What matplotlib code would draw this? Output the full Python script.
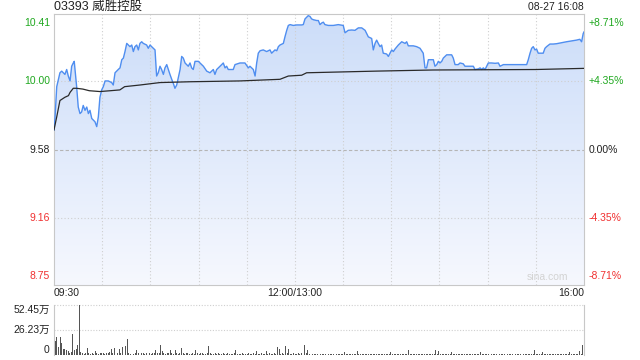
import numpy as np
import matplotlib
matplotlib.use("Agg")
import matplotlib.pyplot as plt
from matplotlib.colors import LinearSegmentedColormap

plt.rcParams["font.family"] = ["Liberation Sans", "Noto Sans CJK SC", "DejaVu Sans"]

TITLE = "03393 威胜控股"
STAMP = "08-27 16:08"
PREV_CLOSE = 9.58
PRICE_TICKS = [10.41, 10.00, 9.58, 9.16, 8.75]
PCT_LABELS = ["+8.71%", "+4.35%", "0.00%", "-4.35%", "-8.71%"]
TIME_LABELS = ["09:30", "12:00/13:00", "16:00"]
VOL_TICKS = [52.45, 26.23, 0]
VOL_LABELS = ["52.45万", "26.23万", "0"]

# minutes since 09:30 (lunch break removed), price
price_min = [0, 0.6, 1.7, 3.7, 4.8, 6.8, 7.9, 8.9, 10, 11, 12, 12.6, 14.1, 15.1, 16.2, 17.2,
             18.2, 19.3, 20.4, 21.4, 22.4, 23.5, 24.5, 25.5, 26.6, 27.6, 28.6, 29.7, 30.7,
             31.8, 33.8, 35.9, 36.9, 38, 40, 41.1, 42.2, 43.2, 44.2, 45.3, 46.3, 47.3, 48.4,
             49.4, 50.4, 51.5, 52.5, 53.5, 54.6, 55.6, 57.7, 58.7, 59.8, 60.8, 62.9, 63.9,
             64.9, 66, 67, 68.1, 69.1, 70.2, 71.2, 72.2, 73.3, 74.3, 75.3, 76.4, 77.4, 78.5,
             79.5, 80.5, 81.6, 83.6, 84.7, 85.7, 86.7, 87.8, 89.9, 90.9, 93, 95.1, 97.1, 99.2,
             100.2, 101.3, 103.4, 104.4, 105.4, 106.5, 107.5, 108.5, 109.6, 111.6, 112.7,
             115.8, 118.9, 121, 122, 124.1, 125.2, 126.2, 127.2, 128.3, 130.3, 132.4, 134.5,
             135.5, 137.6, 138.7, 139.7, 140.7, 142.8, 143.8, 144.9, 145.9, 147, 149, 151.1,
             154.2, 155.2, 156.3, 157.3, 158.3, 159.4, 160.4, 161.5, 163.6, 164.6, 165.6,
             166.7, 167.7, 168.7, 170.8, 173.9, 177, 180.1, 181.2, 183.2, 185.4, 187.4, 189.5,
             191.6, 193.7, 195.7, 197.8, 198.8, 199.9, 200.9, 201.9, 203, 204, 205, 207.1,
             208.2, 209.2, 210.3, 211.3, 212.3, 214.4, 216.5, 218.6, 219.6, 220.6, 223.7,
             225.8, 227.9, 229.9, 231, 232, 233.1, 236.2, 237.2, 238.3, 239.3, 240.3, 241.4,
             242.4, 243.5, 244.5, 247.6, 248.6, 249.7, 251.7, 252.8, 254.8, 255.9, 261.1,
             262.1, 264.2, 265.3, 266.3, 267.3, 268.4, 269.4, 270.4, 272.5, 274.6, 276.7,
             277.7, 279.8, 284, 288.1, 294.3, 295.3, 296.4, 297.4, 298.4, 299.5, 300.5, 301.5,
             303.6, 304.6, 305.7, 306.7, 308.8, 310.8, 312.9, 316, 319.1, 322.2, 325.3, 327.4,
             328.5, 329.5, 330]
price_val = [9.70, 9.77, 9.965, 10.05, 10.06, 10.04, 10.07, 10.03, 10.00, 10.09, 10.11, 10.12,
             9.965, 9.84, 9.80, 9.81, 9.85, 9.82, 9.84, 9.80, 9.82, 9.77, 9.76, 9.75, 9.72,
             9.78, 9.90, 9.945, 9.965, 10.00, 10.00, 9.99, 9.975, 10.05, 10.07, 10.08, 10.13,
             10.14, 10.18, 10.23, 10.22, 10.21, 10.22, 10.18, 10.21, 10.22, 10.19, 10.23,
             10.24, 10.23, 10.22, 10.20, 10.22, 10.21, 10.19, 10.03, 10.05, 10.09, 10.07,
             10.04, 10.08, 10.10, 10.07, 10.04, 10.01, 9.985, 9.955, 9.975, 10.02, 10.07,
             10.15, 10.14, 10.11, 10.09, 10.11, 10.08, 10.07, 10.12, 10.12, 10.11, 10.09,
             10.06, 10.05, 10.07, 10.04, 10.07, 10.09, 10.10, 10.11, 10.08, 10.09, 10.07,
             10.07, 10.07, 10.10, 10.11, 10.11, 10.08, 10.09, 10.07, 10.03, 10.11, 10.17,
             10.185, 10.19, 10.18, 10.19, 10.17, 10.19, 10.185, 10.21, 10.22, 10.23, 10.27,
             10.31, 10.34, 10.345, 10.34, 10.343, 10.343, 10.345, 10.38, 10.39, 10.40, 10.395,
             10.38, 10.375, 10.37, 10.37, 10.345, 10.355, 10.36, 10.345, 10.34, 10.34, 10.345,
             10.34, 10.295, 10.31, 10.312, 10.31, 10.325, 10.325, 10.31, 10.27, 10.26, 10.19,
             10.23, 10.25, 10.23, 10.21, 10.22, 10.17, 10.165, 10.15, 10.17, 10.19, 10.18,
             10.195, 10.22, 10.24, 10.23, 10.24, 10.215, 10.215, 10.21, 10.20, 10.17, 10.08,
             10.08, 10.13, 10.13, 10.09, 10.10, 10.12, 10.11, 10.12, 10.14, 10.15, 10.16,
             10.16, 10.14, 10.10, 10.10, 10.11, 10.105, 10.09, 10.09, 10.07, 10.074, 10.08,
             10.07, 10.08, 10.07, 10.09, 10.11, 10.11, 10.108, 10.11, 10.09, 10.10, 10.10,
             10.10, 10.10, 10.13, 10.17, 10.20, 10.21, 10.19, 10.195, 10.17, 10.17, 10.17,
             10.20, 10.21, 10.226, 10.226, 10.228, 10.234, 10.24, 10.245, 10.25, 10.255,
             10.24, 10.29, 10.30]

# average price line
avg_min = [0, 1.7, 3.7, 6.8, 9, 10, 12, 14, 18, 22, 28.6, 35, 41, 44, 53.5, 66, 84.7,
           115.8, 140.7, 145.9, 154.2, 157.3, 200, 236, 300, 330]
avg_val = [9.70, 9.78, 9.88, 9.90, 9.91, 9.93, 9.955, 9.955, 9.95, 9.94, 9.935, 9.94,
           9.945, 9.965, 9.975, 9.99, 9.995, 10.00, 10.01, 10.03, 10.035, 10.05, 10.06,
           10.067, 10.07, 10.077]

# volume per minute, in 万 shares
volume = [
    14.5, 19, 8, 19, 12.8, 6, 6, 5, 4.5, 2, 3.5, 21.7, 5, 6, 10.4, 52.45, 3.5, 2, 1.5, 2.5,
    7, 2, 1.5, 2, 1.5, 4, 2, 1.5, 2.5, 1.8,
    2, 1.5, 2.5, 2, 3, 6, 2, 7, 3, 2, 6, 2.5, 8.6, 5, 9, 17, 2, 1.5, 2, 1.2,
    2, 5, 2, 1.5, 1.8, 2.5, 1.5, 2, 1.2, 2,
    1.5, 2, 2.5, 5, 2, 1.8, 11, 4, 2, 1.5, 2, 2.5, 5, 2, 1.5, 5, 2, 1.5, 2, 7.6,
    2, 1.5, 1.8, 2, 1.2, 1.5, 2, 1.5, 5, 2,
    1.5, 2, 1.8, 1.2, 1.5, 2, 9.3, 2, 1.5, 1.2, 1.8, 1.5, 2, 1.2, 1.5, 1.8, 1.2, 1.5, 2, 1.2,
    1.5, 1.2, 1.8, 5, 1.5, 1.2, 1.5, 2, 1.2, 1.5,
    1.2, 1.8, 1.5, 1.2, 2, 1.5, 4, 1.5, 1.2, 1.8, 1.5, 1.2, 4, 1.5, 1.8, 1.2, 1.5, 2, 1.5, 8,
    6, 1.5, 2, 1.5, 9.3, 2, 6, 1.5, 1.2, 1.8,
    1.5, 1.2, 1.8, 1.5, 2, 9.3, 10.4, 2, 5, 1.5, 1.2, 1, 0.8, 1.2, 1, 0.8, 1.2, 1, 1.5, 0.8,
    1, 1.2, 0.8, 1, 1.5, 1, 0.8, 1.2, 1, 0.8,
    1.2, 3.5, 1, 0.8, 1.2, 1, 1.5, 0.8, 1.2, 3.8, 1, 0.8, 1.2, 1.5, 1, 0.8, 1.2, 1, 0.8, 1.5,
    1, 1.2, 0.8, 1, 1.5, 1.2, 0.8, 1, 1.2, 0.8,
    3.5, 1, 0.8, 1.2, 1, 1.5, 0.8, 1, 1.2, 0.8, 1.5, 5, 1, 0.8, 1.2, 1, 0.8, 1.5, 1, 1.2,
    0.8, 1, 1.2, 1.5, 0.8, 1, 1.2, 0.8, 5, 1.2,
    3.8, 1, 1.2, 0.8, 1, 1.5, 1.2, 0.8, 3.5, 1, 1.2, 0.8, 1, 1.5, 1.2, 0.8, 1, 1.2, 0.8, 1.5,
    1, 1.2, 0.8, 1, 1.2, 0.8, 3.5, 1, 1.2, 0.8,
    1, 1.2, 1.5, 0.8, 1, 1.2, 0.8, 1, 1.5, 1.2, 0.8, 1, 3.5, 1.2, 0.8, 1, 1.5, 1.2, 0.8, 1,
    1.2, 1.5, 0.8, 1, 1.2, 0.8, 1, 1.5, 1.2, 1,
    5, 1.2, 1, 0.8, 1.5, 3.5, 1.2, 1, 0.8, 1.2, 1.5, 1, 0.8, 1.2, 1, 1.5, 0.8, 1.2, 1, 0.8,
    1.2, 1.5, 3.5, 1, 1.2, 0.8, 1.5, 1.2, 3.8, 1.5, 11,
]

GREEN = "#1fa81f"
RED = "#f03030"
DARK = "#222222"
BORDER = "#c8c8c8"
GRID = "#cfcfcf"
label_colors = [GREEN, GREEN, DARK, RED, RED]

fig = plt.figure(figsize=(6.4, 3.6), dpi=100)
ax = fig.add_axes([54 / 640, 1 - 285 / 360, 530 / 640, 271 / 360])
axv = fig.add_axes([54 / 640, 1 - 355 / 360, 530 / 640, 50 / 360])

y_lo, y_hi = PRICE_TICKS[-1], PRICE_TICKS[0]
ax.set_xlim(0, 330)
ax.set_ylim(y_lo, y_hi)

# gradient fill under the price line
cmap = LinearSegmentedColormap.from_list("fill", ["#f6f8fe", "#ccddf9"])
poly = ax.fill_between(price_min, price_val, y_lo, color="none", lw=0)
grad = np.linspace(0, 1, 256).reshape(-1, 1)
im = ax.imshow(grad, extent=[0, 330, y_lo, y_hi], origin="lower", aspect="auto",
               cmap=cmap, zorder=1)
im.set_clip_path(poly.get_paths()[0], transform=ax.transData)

ax.plot(price_min, price_val, color="#4f8ef0", lw=1.0, zorder=3)
ax.plot(avg_min, avg_val, color="#2a2a2a", lw=0.9, zorder=3)

# grid
for v in [10.00, 9.16]:
    ax.axhline(v, color=GRID, lw=0.8, ls=(0, (1, 2)), zorder=2)
ax.axhline(PREV_CLOSE, color="#b5b5b5", lw=0.8, ls=(0, (3, 2)), zorder=2)
for m in range(30, 330, 30):
    ax.axvline(m, color=GRID, lw=0.8, ls=(0, (1, 2)), zorder=2)

ax.set_xticks([])
ax.set_yticks([])
for s in ax.spines.values():
    s.set_color(BORDER)
    s.set_linewidth(0.8)

# price and percentage labels
for i, (v, pct, c) in enumerate(zip(PRICE_TICKS, PCT_LABELS, label_colors)):
    va = "top" if i == 0 else ("bottom" if i == len(PRICE_TICKS) - 1 else "center")
    off = -3 if i == 0 else (3 if i == len(PRICE_TICKS) - 1 else 0)
    ax.annotate(f"{v:.2f}", (0, v), xytext=(-3, off), textcoords="offset points",
                ha="right", va=va, color=c, fontsize=7.5, annotation_clip=False)
    ax.annotate(pct, (1, v), xycoords=("axes fraction", "data"), xytext=(3, off),
                textcoords="offset points", ha="left", va=va, color=c, fontsize=7.5,
                annotation_clip=False)

ax.text(0.97, 0.012, "sina.com", transform=ax.transAxes, ha="right", va="bottom",
        color="#d3d3d3", fontsize=7.5)

# time labels under the price panel
for m, lab, ha in zip([0, 150, 330], TIME_LABELS, ["left", "center", "right"]):
    ax.annotate(lab, (m, y_lo), xytext=(0, -6), textcoords="offset points", ha=ha,
                va="center", color=DARK, fontsize=7.5, annotation_clip=False)

fig.text(54 / 640, 1 - 7 / 360, TITLE, ha="left", va="center", fontsize=9, color=DARK)
fig.text(584 / 640, 1 - 7 / 360, STAMP, ha="right", va="center", fontsize=7.5, color=DARK)

# volume panel
axv.bar(np.arange(len(volume)), volume, width=0.6, color="#555555", zorder=3)
axv.set_xlim(-0.8, 330.8)
axv.set_ylim(0, VOL_TICKS[0])
for v in VOL_TICKS[:2]:
    axv.axhline(v, color=GRID, lw=0.8, ls=(0, (1, 1.5)), zorder=2, clip_on=False)
axv.set_xticks([])
axv.set_yticks([])
for side in ["top", "bottom"]:
    axv.spines[side].set_visible(False)
for side in ["left", "right"]:
    axv.spines[side].set_color(BORDER)
    axv.spines[side].set_linewidth(0.8)
for v, lab, va in zip(VOL_TICKS, VOL_LABELS, ["top", "center", "bottom"]):
    axv.annotate(lab, (-0.8, v), xytext=(-3, 0), textcoords="offset points", ha="right",
                 va=va, color=DARK, fontsize=7.5, annotation_clip=False)

fig.savefig("out.png", dpi=100)
